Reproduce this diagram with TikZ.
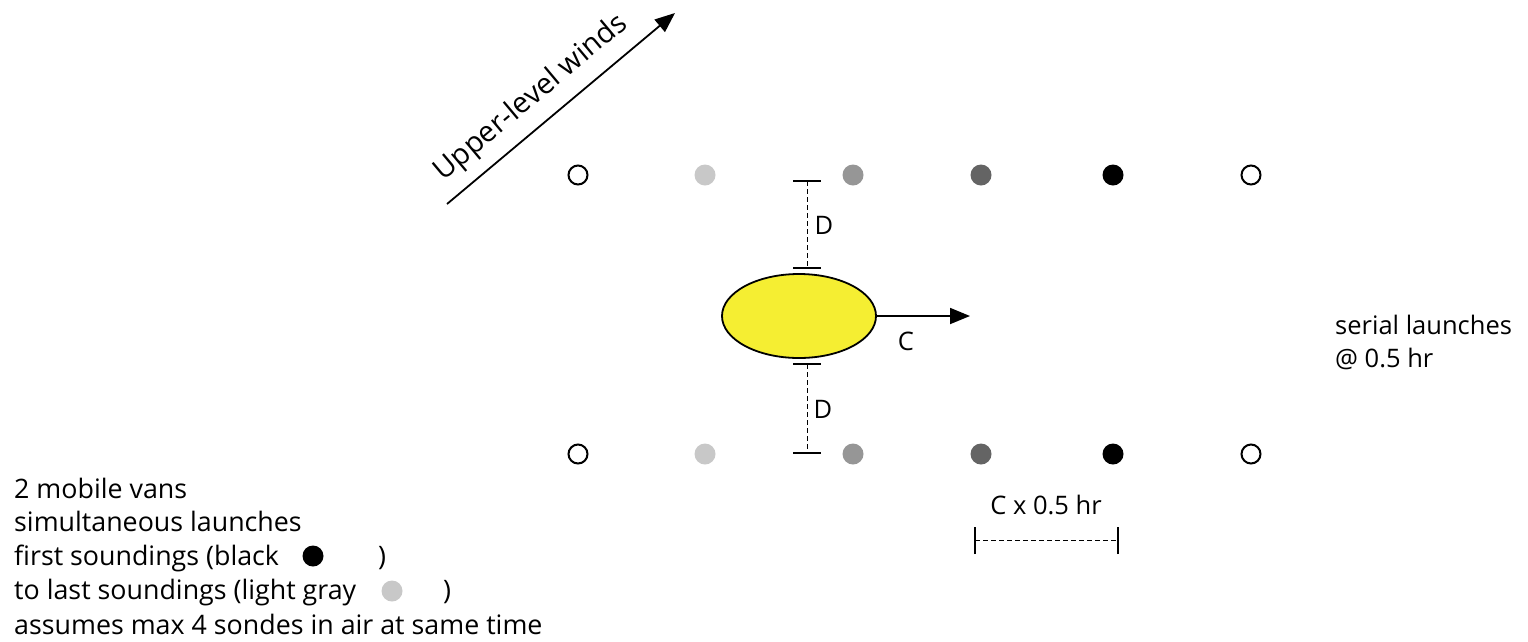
\documentclass[tikz,border=0pt]{standalone}
\usepackage{fontspec}
\setmainfont{Open Sans}
\usetikzlibrary{arrows.meta,shapes.geometric}
\definecolor{ylw}{RGB}{245,238,50}
\definecolor{gA}{RGB}{200,200,200}
\definecolor{gB}{RGB}{150,150,150}
\definecolor{gC}{RGB}{100,100,100}
\begin{document}
\begin{tikzpicture}[x=1pt,y=-1pt,
  lbl/.style={font=\fontsize{25.5}{30}\selectfont, inner sep=0pt},
  leg/.style={font=\fontsize{26.8}{30}\selectfont, inner sep=0pt, anchor=base west},
  opendot/.style={circle, draw=black, line width=2pt, minimum size=19pt, inner sep=0pt},
  filldot/.style={circle, fill=#1, minimum size=21pt, inner sep=0pt},
  capbar/.style={line width=1.6pt},
  dashln/.style={dashed, line width=1pt, dash pattern=on 5pt off 3pt},
  arr/.style={line width=1.8pt, -{Triangle[length=20pt,width=16pt]}}]
\useasboundingbox (0,0) rectangle (1528,641);
% rows of dots
\foreach \r/\y in {t/175,b/454}{
  \node[opendot] (\r1) at (578,\y) {};
  \node[filldot=gA] (\r2) at (705,\y) {};
  \node[filldot=gB] (\r3) at (853,\y) {};
  \node[filldot=gC] (\r4) at (981,\y) {};
  \node[filldot=black] (\r5) at (1113,\y) {};
  \node[opendot] (\r6) at (1251,\y) {};
}
% storm ellipse
\node[ellipse, draw=black, line width=1.8pt, fill=ylw, minimum width=154pt, minimum height=84pt, inner sep=0pt] (storm) at (799,316) {};
\coordinate (ctip) at (970,316);
\draw[arr] (storm.east) -- (ctip);
\node[lbl, anchor=center] (clbl) at (906,341) {C};
% D distances
\coordinate (d1a) at (807,181); \coordinate (d1b) at (807,268);
\coordinate (d2a) at (807,364); \coordinate (d2b) at (807,453);
\draw[capbar] ([xshift=-14pt]d1a) -- ([xshift=14pt]d1a);
\draw[capbar] ([xshift=-14pt]d1b) -- ([xshift=14pt]d1b);
\draw[capbar] ([xshift=-14pt]d2a) -- ([xshift=14pt]d2a);
\draw[capbar] ([xshift=-14pt]d2b) -- ([xshift=14pt]d2b);
\draw[dashln] (d1a) -- (d1b);
\draw[dashln] (d2a) -- (d2b);
\node[lbl] (dl1) at (824,225) {D};
\node[lbl] (dl2) at (823,409) {D};
% C x 0.5 hr bracket
\node[lbl] (cx) at (1046,505) {C x 0.5 hr};
\coordinate (bl) at (975,540); \coordinate (br) at (1118,540);
\draw[line width=1.6pt] ([yshift=-14pt]bl) -- ([yshift=13pt]bl);
\draw[line width=1.6pt] ([yshift=-14pt]br) -- ([yshift=13pt]br);
\draw[dashln] (bl) -- (br);
% upper-level winds
\coordinate (w0) at (447,204); \coordinate (w1) at (675,13);
\draw[arr] (w0) -- (w1);
\node[font=\fontsize{29}{32}\selectfont, inner sep=0pt, rotate=40, anchor=base] (wl) at (536,104) {Upper-level winds};
% serial launches
\node[lbl, anchor=base west] (ser) at (1335,334) {serial launches};
\node[lbl, anchor=base west] (ser2) at (1335,367) {@ 0.5 hr};
% legend
\node[leg] (l1) at (14,498) {2 mobile vans};
\node[leg] (l2) at (14,531) {simultaneous launches};
\node[leg] (l3) at (14,565) {first soundings (black};
\node[filldot=black] (ld1) at (313,556) {};
\node[leg] (l3p) at (378,565) {)};
\node[leg] (l4) at (14,599) {to last soundings (light gray};
\node[filldot=gA] (ld2) at (392,591) {};
\node[leg] (l4p) at (443,599) {)};
\node[leg] (l5) at (14,634) {assumes max 4 sondes in air at same time};
\end{tikzpicture}
\end{document}
